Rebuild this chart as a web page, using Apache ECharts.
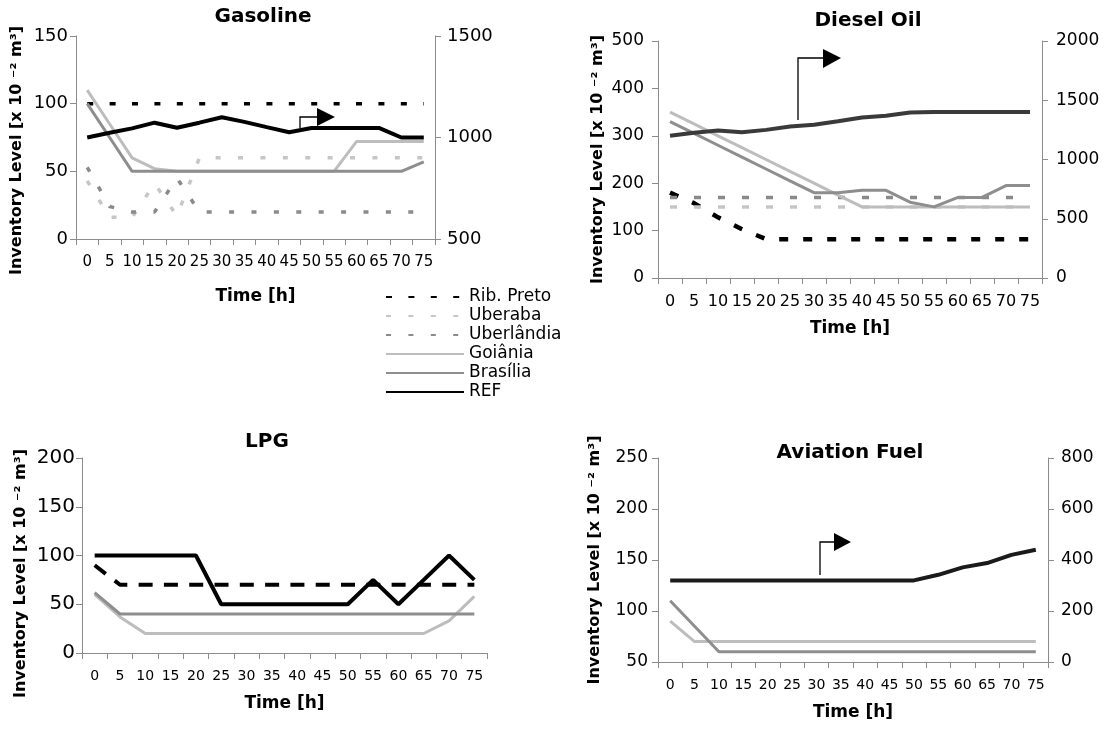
<!DOCTYPE html>
<html><head><meta charset="utf-8">
<script src="https://cdn.jsdelivr.net/npm/echarts@6/dist/echarts.min.js"></script>
<style>html,body{margin:0;padding:0;background:#fff}#c{width:1107px;height:729px}</style>
</head><body><div id="c"></div>
<script>
// ---------- data ----------
const times = ['0','5','10','15','20','25','30','35','40','45','50','55','60','65','70','75'];
const seriesNames = ['Rib. Preto','Uberaba','Uberlândia','Goiânia','Brasília','REF'];

// Gasoline (left axis, REF on right axis)
const gasRibPreto   = [100,100,100,100,100,100,100,100,100,100,100,100,100,100,100,100];
const gasUberaba    = [43,16,16,41,17,60,60,60,60,60,60,60,60,60,60,60];
const gasUberlandia = [53,24,20,20,45,20,20,20,20,20,20,20,20,20,20,20];
const gasGoiania    = [110,85,60,52,50,50,50,50,50,50,50,50,72,72,72,72];
const gasBrasilia   = [100,75,50,50,50,50,50,50,50,50,50,50,50,50,50,57];
const gasREF        = [1000,1023,1045,1073,1048,1073,1100,1077,1051,1026,1047,1047,1047,1047,1000,1000];

// Diesel Oil
const dslRibPreto   = [180,158,128,103,82,82,82,82,82,82,82,82,82,82,82,82];
const dslUberaba    = [150,150,150,150,150,150,150,150,150,150,150,150,150,150,150,150];
const dslUberlandia = [170,170,170,170,170,170,170,170,170,170,170,170,170,170,170,170];
const dslGoiania    = [350,325,300,275,250,225,200,175,150,150,150,150,150,150,150,150];
const dslBrasilia   = [330,305,280,255,230,205,180,180,185,185,160,150,170,170,195,195];
const dslREF        = [1200,1225,1245,1230,1250,1278,1294,1322,1355,1370,1397,1400,1400,1400,1400,1400];

// LPG
const lpgRibPreto   = [90,70,70,70,70,70,70,70,70,70,70,70,70,70,70,70];
const lpgGoiania    = [60,37,20,20,20,20,20,20,20,20,20,20,20,20,33,58];
const lpgBrasilia   = [62,40,40,40,40,40,40,40,40,40,40,40,40,40,40,40];
const lpgREF        = [100,100,100,100,100,50,50,50,50,50,50,75,50,75,100,75];

// Aviation Fuel
const avGoiania     = [90,70,70,70,70,70,70,70,70,70,70,70,70,70,70,70];
const avBrasilia    = [110,85,60,60,60,60,60,60,60,60,60,60,60,60,60,60];
const avREF         = [320,320,320,320,320,320,320,320,320,320,320,342,371,388,420,440];

// axis ranges [min, max, interval]
const gasLeft  = [0,150,50],   gasRight = [500,1500,500];
const dslLeft  = [0,500,100],  dslRight = [0,2000,500];
const lpgLeft  = [0,200,50];
const avLeft   = [50,250,50],  avRight  = [0,800,200];

const titles = ['Gasoline','Diesel Oil','LPG','Aviation Fuel'];
const yTitle = 'Inventory Level [x 10 \u207B\u00B2 m\u00B3]';
const xTitle = 'Time [h]';

// ---------- styles ----------
const F = 'DejaVu Sans';
const AX = '#8c8c8c';
const styles = {
  'Rib. Preto': {color:'#000000', width:3.5, type:[6,16.4]},
  'Uberaba':    {color:'#c6c6c6', width:3.5, type:[5,17.4]},
  'Uberlândia': {color:'#8a8a8a', width:3.5, type:[5,17.4]},
  'Goiânia':    {color:'#bdbdbd', width:3},
  'Brasília':   {color:'#8e8e8e', width:3},
  'REF':        {color:'#000000', width:4}
};

function ser(name, data, gi, yi, over) {
  const s = Object.assign({}, styles[name], over || {});
  return {
    type:'line', name, data, xAxisIndex:gi, yAxisIndex:yi,
    symbol:'none', showSymbol:false, silent:true,
    color:s.color, z: name === 'REF' ? 5 : 3,
    lineStyle:{color:s.color, width:s.width, type:s.type || 'solid', cap:'butt'}
  };
}

function xAx(gi, fs, nameGap) {
  return {
    type:'category', gridIndex:gi, data:times, boundaryGap:true,
    axisLine:{lineStyle:{color:AX, width:1}},
    axisTick:{show:true, interval:0, length:6, lineStyle:{color:AX}},
    axisLabel:{interval:0, color:'#000', fontFamily:F, fontSize:fs, margin:16},
    splitLine:{show:false},
    name:xTitle, nameLocation:'middle', nameGap,
    nameTextStyle:{fontFamily:F, fontWeight:'bold', fontSize:17, color:'#000'}
  };
}
function yAx(gi, r, pos, fs, margin, nameGap, shift) {
  const a = {
    type:'value', gridIndex:gi, position:pos, min:r[0], max:r[1], interval:r[2],
    axisLine:{show:true, lineStyle:{color:AX, width:1}},
    axisTick:{show:true, length:6, lineStyle:{color:AX}},
    axisLabel:{color:'#000', fontFamily:F, fontSize:fs, margin, formatter:(v)=>String(v)},
    splitLine:{show:false}
  };
  if (nameGap) {
    a.name = yTitle; a.nameLocation = 'middle'; a.nameRotate = 90; a.nameGap = nameGap;
    a.nameTextStyle = {fontFamily:F, fontWeight:'bold', fontSize:16, color:'#000',
      padding: shift ? [0, shift * 2, 0, 0] : 0};
  }
  return a;
}
function ttl(text, cx, cy) {
  return {type:'text', x:cx, y:cy, z:20,
    style:{text, align:'center', verticalAlign:'middle', fill:'#000',
      font:'bold 20px "DejaVu Sans"'}};
}

const chart = echarts.init(document.getElementById('c'), null, {renderer:'canvas'});
chart.setOption({
  animation:false,
  backgroundColor:'#fff',
  legend:{
    orient:'vertical', left:380, top:283, itemWidth:78, itemHeight:14, itemGap:1,
    data:seriesNames, selectedMode:false,
    itemStyle:{opacity:0},
    textStyle:{fontFamily:F, fontSize:17, lineHeight:18, color:'#000'}
  },
  grid:[
    {left:76,  top:36,  width:359, height:203},
    {left:658, top:41,  width:384, height:237},
    {left:82,  top:458, width:405, height:195},
    {left:658, top:458, width:390, height:204}
  ],
  xAxis:[xAx(0,15,49), xAx(1,16,42), xAx(2,14,42), xAx(3,14,42)],
  yAxis:[
    yAx(0,gasLeft,'left',18,8,51,13),
    yAx(0,gasRight,'right',18,12),
    yAx(1,dslLeft,'left',17,14,52),
    yAx(1,dslRight,'right',17,14),
    yAx(2,lpgLeft,'left',20,7,53,18),
    yAx(3,avLeft,'left',17,10,55),
    yAx(3,avRight,'right',17,13)
  ],
  series:[
    ser('Rib. Preto', gasRibPreto, 0, 0),
    ser('Uberaba', gasUberaba, 0, 0),
    ser('Uberlândia', gasUberlandia, 0, 0),
    ser('Goiânia', gasGoiania, 0, 0),
    ser('Brasília', gasBrasilia, 0, 0),
    ser('REF', gasREF, 0, 1),

    ser('Rib. Preto', dslRibPreto, 1, 2, {width:4.5, type:[9,15]}),
    ser('Uberaba', dslUberaba, 1, 2, {type:[7,17]}),
    ser('Uberlândia', dslUberlandia, 1, 2, {type:[7,17]}),
    ser('Goiânia', dslGoiania, 1, 2),
    ser('Brasília', dslBrasilia, 1, 2),
    ser('REF', dslREF, 1, 3, {color:'#3a3a3a'}),

    ser('Rib. Preto', lpgRibPreto, 2, 4, {width:4, type:[14,11.3]}),
    ser('Goiânia', lpgGoiania, 2, 4),
    ser('Brasília', lpgBrasilia, 2, 4),
    ser('REF', lpgREF, 2, 4),

    ser('Goiânia', avGoiania, 3, 5),
    ser('Brasília', avBrasilia, 3, 5),
    ser('REF', avREF, 3, 6, {color:'#1a1a1a'})
  ],
  graphic:[
    ttl(titles[0],263,17), ttl(titles[1],868,21), ttl(titles[2],267,442), ttl(titles[3],850,453),
    // arrows pointing to the right-hand axis
    {type:'polyline', shape:{points:[[300,128],[300,117],[317,117]]}, style:{stroke:'#000', lineWidth:1.3, fill:null}, z:10},
    {type:'polygon', shape:{points:[[317,108],[317,126],[335,117]]}, style:{fill:'#000'}, z:10},
    {type:'polyline', shape:{points:[[798,120],[798,58],[823,58]]}, style:{stroke:'#000', lineWidth:1.3, fill:null}, z:10},
    {type:'polygon', shape:{points:[[823,49],[823,68],[841,58]]}, style:{fill:'#000'}, z:10},
    {type:'polyline', shape:{points:[[820,575],[820,542],[834,542]]}, style:{stroke:'#000', lineWidth:1.3, fill:null}, z:10},
    {type:'polygon', shape:{points:[[834,533],[834,551],[851,542]]}, style:{fill:'#000'}, z:10}
  ]
});
</script></body></html>
